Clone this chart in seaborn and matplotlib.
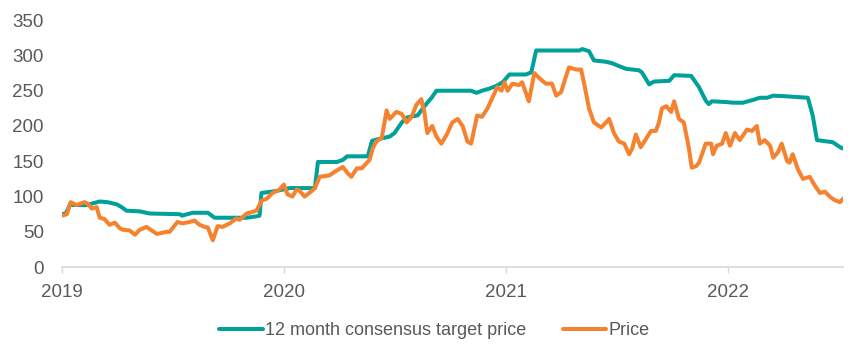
import pandas as pd
import seaborn as sns
import matplotlib.pyplot as plt
import matplotlib.dates as mdates

# -----------------------------
# Data
# -----------------------------
target_dates = [
    '2019-01-01', '2019-01-07', '2019-01-14', '2019-02-11', '2019-02-19', '2019-03-04',
    '2019-03-17', '2019-04-01', '2019-04-09', '2019-04-17', '2019-05-09', '2019-05-25',
    '2019-07-14', '2019-07-17', '2019-08-04', '2019-08-29', '2019-09-09', '2019-11-01',
    '2019-11-17', '2019-11-22', '2019-11-25', '2019-12-20', '2020-01-10', '2020-02-21',
    '2020-02-26', '2020-03-28', '2020-04-07', '2020-04-14', '2020-05-18', '2020-05-25',
    '2020-06-07', '2020-06-23', '2020-07-01', '2020-07-13', '2020-07-21', '2020-08-08',
    '2020-08-14', '2020-08-23', '2020-08-31', '2020-09-08', '2020-11-04', '2020-11-13',
    '2020-11-22', '2020-12-04', '2020-12-16', '2020-12-26', '2021-01-06', '2021-02-02',
    '2021-02-11', '2021-02-19', '2021-05-01', '2021-05-06', '2021-05-17', '2021-05-25',
    '2021-06-14', '2021-06-24', '2021-07-05', '2021-07-17', '2021-08-07', '2021-08-12',
    '2021-08-24', '2021-09-01', '2021-09-26', '2021-10-04', '2021-11-01', '2021-11-14',
    '2021-11-25', '2021-11-30', '2021-12-05', '2021-12-28', '2022-01-09', '2022-01-25',
    '2022-02-11', '2022-02-22', '2022-03-06', '2022-03-16', '2022-04-08', '2022-05-12',
    '2022-05-20', '2022-05-27', '2022-06-22', '2022-07-04', '2022-07-09',
]
target_values = [
    75, 76, 88, 88, 90, 93,
    92, 89, 85, 80, 79, 76,
    75, 73, 77, 77, 70, 70,
    72, 73, 105, 108, 112, 112,
    149, 149, 152, 157, 157, 179,
    182, 185, 190, 205, 212, 215,
    222, 232, 240, 250, 250, 247,
    250, 253, 257, 262, 273, 273,
    276, 307, 307, 309, 306, 293,
    291, 289, 285, 281, 279, 276,
    259, 263, 264, 272, 271, 255,
    236, 231, 235, 234, 233, 233,
    237, 240, 240, 243, 242, 240,
    215, 180, 177, 170, 168,
]

price_dates = [
    '2019-01-01', '2019-01-09', '2019-01-15', '2019-01-25', '2019-02-07', '2019-02-12',
    '2019-02-19', '2019-02-27', '2019-03-04', '2019-03-12', '2019-03-20', '2019-03-29',
    '2019-04-06', '2019-04-11', '2019-04-22', '2019-05-01', '2019-05-09', '2019-05-20',
    '2019-06-06', '2019-06-22', '2019-06-27', '2019-07-10', '2019-07-18', '2019-07-30',
    '2019-08-07', '2019-08-15', '2019-08-24', '2019-08-29', '2019-09-06', '2019-09-14',
    '2019-09-22', '2019-10-04', '2019-10-15', '2019-10-20', '2019-11-01', '2019-11-17',
    '2019-11-25', '2019-12-04', '2019-12-13', '2019-12-25', '2020-01-01', '2020-01-07',
    '2020-01-15', '2020-01-22', '2020-01-27', '2020-02-04', '2020-02-16', '2020-02-21',
    '2020-02-29', '2020-03-16', '2020-03-28', '2020-04-07', '2020-04-15', '2020-04-21',
    '2020-04-30', '2020-05-08', '2020-05-21', '2020-05-26', '2020-06-01', '2020-06-10',
    '2020-06-18', '2020-06-23', '2020-07-04', '2020-07-13', '2020-07-21', '2020-07-29',
    '2020-08-06', '2020-08-14', '2020-08-19', '2020-08-24', '2020-09-01', '2020-09-08',
    '2020-09-16', '2020-09-25', '2020-10-04', '2020-10-13', '2020-10-21', '2020-10-29',
    '2020-11-04', '2020-11-14', '2020-11-22', '2020-12-01', '2020-12-09', '2020-12-17',
    '2020-12-24', '2020-12-29', '2021-01-03', '2021-01-11', '2021-01-22', '2021-01-27',
    '2021-02-07', '2021-02-16', '2021-02-24', '2021-03-07', '2021-03-17', '2021-03-24',
    '2021-04-01', '2021-04-09', '2021-04-14', '2021-04-26', '2021-05-04', '2021-05-09',
    '2021-05-17', '2021-05-25', '2021-06-06', '2021-06-14', '2021-06-19', '2021-06-27',
    '2021-07-05', '2021-07-14', '2021-07-22', '2021-07-27', '2021-08-02', '2021-08-10',
    '2021-08-19', '2021-08-27', '2021-09-04', '2021-09-09', '2021-09-14', '2021-09-21',
    '2021-09-29', '2021-10-04', '2021-10-12', '2021-10-20', '2021-10-28', '2021-11-02',
    '2021-11-09', '2021-11-14', '2021-11-25', '2021-12-04', '2021-12-07', '2021-12-13',
    '2021-12-22', '2021-12-28', '2022-01-04', '2022-01-12', '2022-01-20', '2022-02-01',
    '2022-02-09', '2022-02-17', '2022-02-22', '2022-03-02', '2022-03-11', '2022-03-16',
    '2022-03-24', '2022-03-30', '2022-04-08', '2022-04-12', '2022-04-17', '2022-04-26',
    '2022-05-04', '2022-05-15', '2022-05-24', '2022-06-01', '2022-06-09', '2022-06-17',
    '2022-06-25', '2022-07-04', '2022-07-09',
]
price_values = [
    73, 75, 92, 88, 92, 90,
    83, 85, 70, 68, 60, 63,
    55, 53, 52, 46, 53, 57,
    47, 50, 50, 64, 62, 64,
    66, 60, 57, 56, 38, 58,
    57, 62, 69, 67, 76, 80,
    94, 97, 105, 110, 117, 103,
    100, 110, 108, 100, 108, 112,
    128, 130, 137, 142, 133, 128,
    140, 140, 152, 168, 178, 183,
    222, 210, 220, 217, 205, 213,
    230, 238, 220, 190, 200, 185,
    175, 188, 205, 210, 200, 178,
    175, 215, 213, 225, 240, 255,
    250, 262, 250, 260, 258, 262,
    235, 275, 268, 260, 260, 243,
    248, 270, 283, 280, 280, 260,
    225, 205, 198, 205, 210, 190,
    178, 175, 160, 168, 188, 170,
    182, 193, 193, 205, 225, 228,
    220, 235, 210, 205, 170, 141,
    143, 148, 175, 175, 160, 172,
    175, 190, 172, 190, 180, 195,
    193, 200, 175, 180, 172, 155,
    163, 175, 150, 148, 160, 138,
    125, 128, 115, 105, 107, 100,
    95, 92, 97,
]

target_label = '12 month consensus target price'
price_label = 'Price'
year_ticks = ['2019-01-01', '2020-01-01', '2021-01-01', '2022-01-01']
y_ticks = [0, 50, 100, 150, 200, 250, 300, 350]

df = pd.concat([
    pd.DataFrame({'Date': pd.to_datetime(target_dates), 'Value': target_values, 'Series': target_label}),
    pd.DataFrame({'Date': pd.to_datetime(price_dates), 'Value': price_values, 'Series': price_label}),
], ignore_index=True)

# -----------------------------
# Plot
# -----------------------------
sns.set_style('white')
plt.rcParams['font.family'] = ['Liberation Sans Narrow', 'Liberation Sans', 'DejaVu Sans']

fig = plt.figure(figsize=(8.64, 3.6), dpi=100)
ax = fig.add_axes([0.0718, 0.258, 0.904, 0.686])

palette = {target_label: '#00A19B', price_label: '#F5822F'}
sns.lineplot(data=df, x='Date', y='Value', hue='Series', palette=palette,
             estimator=None, sort=False, linewidth=2.9, ax=ax, legend=False)

ax.set_xlim(pd.Timestamp('2019-01-01'), pd.Timestamp('2022-07-09'))
ax.set_ylim(0, 350)
ax.set_yticks(y_ticks)
ax.set_xticks(pd.to_datetime(year_ticks))
ax.xaxis.set_major_formatter(mdates.DateFormatter('%Y'))
ax.set_xlabel('')
ax.set_ylabel('')

for side in ['top', 'right', 'left']:
    ax.spines[side].set_visible(False)
ax.spines['bottom'].set_color('#d9d9d9')
ax.spines['bottom'].set_linewidth(1.2)

ax.tick_params(axis='y', length=0, pad=13, labelsize=13.5, labelcolor='#595959')
ax.tick_params(axis='x', length=4, width=1, color='#d9d9d9', pad=8,
               labelsize=13.5, labelcolor='#595959', bottom=True)

handles = [plt.Line2D([], [], color=palette[target_label], linewidth=2.9),
           plt.Line2D([], [], color=palette[price_label], linewidth=2.9)]
fig.legend(handles, [target_label, price_label], loc='center', bbox_to_anchor=(0.503, 0.081),
           ncol=2, frameon=False, fontsize=13, labelcolor='#595959',
           handlelength=2.4, handletextpad=0.15, columnspacing=2.0)

plt.savefig('out.png', dpi=100)
